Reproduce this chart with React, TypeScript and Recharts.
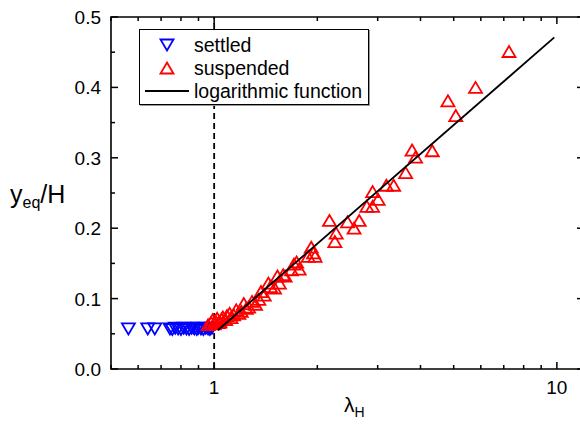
import {
  ReferenceArea,
  ReferenceLine,
  Scatter,
  ScatterChart,
  XAxis,
  YAxis,
} from "recharts";

const FONT = "'Liberation Sans', Arial, sans-serif";
const CHART_WIDTH = 590;
const CHART_HEIGHT = 424;
const PLOT_LEFT = 111;
const PLOT_RIGHT = 584;
const PLOT_TOP = 17;
const PLOT_BOTTOM = 369;
const MAJOR_TICK = 7;
const MINOR_TICK = 4;
const TICK_FONT_SIZE = 19;

const X_DOMAIN: [number, number] = [0.5, 12];
const Y_DOMAIN: [number, number] = [0, 0.5];
const X_MAJOR_TICKS = [1, 10];
const X_MINOR_TICKS = [0.5, 0.6, 0.7, 0.8, 0.9, 2, 3, 4, 5, 6, 7, 8, 9];
const Y_MAJOR_TICKS = [0, 0.1, 0.2, 0.3, 0.4, 0.5];
const Y_MINOR_TICKS = [0.05, 0.15, 0.25, 0.35, 0.45];

const SETTLED_LAMBDA = [
  0.562, 0.64, 0.671, 0.743, 0.755, 0.77, 0.785, 0.8, 0.815, 0.83, 0.845,
  0.86, 0.875, 0.89, 0.9, 0.915, 0.93, 0.945, 0.96, 0.972, 0.985,
];
const SETTLED_Y = [
  0.057, 0.057, 0.057, 0.057, 0.056, 0.058, 0.057, 0.056, 0.058, 0.057, 0.056,
  0.058, 0.057, 0.056, 0.058, 0.057, 0.056, 0.058, 0.057, 0.056, 0.058,
];

const SUSPENDED_LAMBDA = [
  0.96, 0.98, 0.99, 1.0, 1.01, 1.02, 1.03, 1.04, 1.05, 1.06, 1.08, 1.09, 1.11,
  1.12, 1.14, 1.16, 1.18, 1.2, 1.22, 1.24, 1.26, 1.29, 1.32, 1.35, 1.37, 1.4,
  1.44, 1.46, 1.5, 1.53, 1.55, 1.59, 1.61, 1.68, 1.71, 1.74, 1.77, 1.88, 1.92,
  1.95, 1.97, 2.17, 2.25, 2.27, 2.45, 2.56, 2.65, 2.79, 2.9, 2.9, 3.01, 3.18,
  3.34, 3.62, 3.78, 3.87, 4.33, 4.81, 5.07, 5.79, 7.25,
];
const SUSPENDED_Y = [
  0.063, 0.066, 0.07, 0.064, 0.068, 0.072, 0.066, 0.067, 0.071, 0.074, 0.07,
  0.076, 0.079, 0.073, 0.077, 0.084, 0.079, 0.082, 0.093, 0.086, 0.088, 0.096,
  0.092, 0.099, 0.11, 0.105, 0.122, 0.117, 0.115, 0.132, 0.122, 0.134, 0.132,
  0.141, 0.149, 0.152, 0.142, 0.16, 0.173, 0.165, 0.16, 0.211, 0.181, 0.193,
  0.209, 0.2, 0.211, 0.231, 0.231, 0.252, 0.241, 0.261, 0.261, 0.279, 0.311,
  0.301, 0.31, 0.381, 0.36, 0.4, 0.451,
];

const FIT_LAMBDA = [1.025, 9.83];
const FIT_Y = [0.055, 0.471];

const LEGEND_LABELS = ["settled", "suspended", "logarithmic function"];

const toPoints = (xs: number[], ys: number[]) =>
  xs.map((x, i) => ({ x, y: ys[i] }));

const settled = toPoints(SETTLED_LAMBDA, SETTLED_Y);
const suspended = toPoints(SUSPENDED_LAMBDA, SUSPENDED_Y);
const fit = toPoints(FIT_LAMBDA, FIT_Y);

const TRI_W = 6.5;
const TRI_H = 5.5;

function UpTriangle({ cx, cy }: any) {
  return (
    <polygon
      points={`${cx},${cy - TRI_H} ${cx + TRI_W},${cy + TRI_H} ${cx - TRI_W},${cy + TRI_H}`}
      fill="none"
      stroke="#ff0000"
      strokeWidth={1.8}
    />
  );
}

function DownTriangle({ cx, cy }: any) {
  return (
    <polygon
      points={`${cx - TRI_W},${cy - TRI_H} ${cx + TRI_W},${cy - TRI_H} ${cx},${cy + TRI_H}`}
      fill="none"
      stroke="#0000ff"
      strokeWidth={1.8}
    />
  );
}

function XTick({ x, payload }: any) {
  const major = X_MAJOR_TICKS.includes(payload.value);
  const len = major ? MAJOR_TICK : MINOR_TICK;
  return (
    <g>
      <line x1={x} x2={x} y1={PLOT_BOTTOM} y2={PLOT_BOTTOM - len} stroke="#000" strokeWidth={1.5} />
      <line x1={x} x2={x} y1={PLOT_TOP} y2={PLOT_TOP + len} stroke="#000" strokeWidth={1.5} />
      {major && (
        <text x={x} y={394} textAnchor="middle" fontSize={TICK_FONT_SIZE} fontFamily={FONT} fill="#000">
          {payload.value}
        </text>
      )}
    </g>
  );
}

function YTick({ y, payload }: any) {
  const major = Y_MAJOR_TICKS.some((t) => Math.abs(t - payload.value) < 1e-9);
  const len = major ? MAJOR_TICK : MINOR_TICK;
  return (
    <g>
      <line x1={PLOT_LEFT} x2={PLOT_LEFT + len} y1={y} y2={y} stroke="#000" strokeWidth={1.5} />
      <line x1={PLOT_RIGHT} x2={PLOT_RIGHT - len} y1={y} y2={y} stroke="#000" strokeWidth={1.5} />
      {major && (
        <text x={101} y={y + 7} textAnchor="end" fontSize={TICK_FONT_SIZE} fontFamily={FONT} fill="#000">
          {payload.value.toFixed(1)}
        </text>
      )}
    </g>
  );
}

// legend drawn over the plot, like the boxed legend of the original
function LegendBox() {
  return (
    <svg
      width={228}
      height={74}
      style={{
        position: "absolute",
        left: 139,
        top: 29,
        border: "1px solid #000",
        boxShadow: "1px 1px 0 #999",
        background: "#fff",
      }}
    >
      {LEGEND_LABELS.map((label, i) => {
        const cy = 15 + i * 23;
        return (
          <g key={label}>
            {i === 0 && <DownTriangle cx={27} cy={cy} />}
            {i === 1 && <UpTriangle cx={27} cy={cy} />}
            {i === 2 && <line x1={5} x2={49} y1={cy} y2={cy} stroke="#000" strokeWidth={1.8} />}
            <text x={54} y={cy + 7} fontSize={19.5} fontFamily={FONT} fill="#000">
              {label}
            </text>
          </g>
        );
      })}
    </svg>
  );
}

export default function App() {
  return (
    <div style={{ position: "absolute", left: 0, top: 0, width: 580, height: 424, overflow: "hidden", background: "#fff" }}>
      <ScatterChart
        width={CHART_WIDTH}
        height={CHART_HEIGHT}
        margin={{ top: PLOT_TOP, right: CHART_WIDTH - PLOT_RIGHT, bottom: 0, left: 0 }}
      >
        <XAxis
          dataKey="x"
          type="number"
          scale="log"
          domain={X_DOMAIN}
          allowDataOverflow
          ticks={[...X_MINOR_TICKS, ...X_MAJOR_TICKS]}
          tick={<XTick />}
          tickLine={false}
          axisLine={false}
          height={CHART_HEIGHT - PLOT_BOTTOM}
          interval={0}
          label={{
            content: () => (
              <text x={344} y={412} fontSize={21} fontFamily={FONT} fill="#000">
                λ<tspan fontSize={14} dy={5}>H</tspan>
              </text>
            ),
          }}
        />
        <YAxis
          dataKey="y"
          type="number"
          domain={Y_DOMAIN}
          ticks={[...Y_MAJOR_TICKS, ...Y_MINOR_TICKS]}
          tick={<YTick />}
          tickLine={false}
          axisLine={false}
          width={PLOT_LEFT}
          interval={0}
          label={{
            content: () => (
              <text x={10} y={203} fontSize={25} fontFamily={FONT} fill="#000">
                y<tspan fontSize={16} dy={5}>eq</tspan>
                <tspan dy={-5}>/H</tspan>
              </text>
            ),
          }}
        />
        <ReferenceArea
          x1={X_DOMAIN[0]}
          x2={X_DOMAIN[1]}
          y1={Y_DOMAIN[0]}
          y2={Y_DOMAIN[1]}
          fill="none"
          stroke="#000"
          strokeWidth={1.6}
          fillOpacity={0}
        />
        <ReferenceLine x={1} stroke="#000" strokeWidth={1.8} strokeDasharray="6 4" />
        <Scatter name="settled" data={settled} shape={<DownTriangle />} isAnimationActive={false} />
        <Scatter name="suspended" data={suspended} shape={<UpTriangle />} isAnimationActive={false} />
        <Scatter
          name="logarithmic function"
          data={fit}
          line={{ stroke: "#000", strokeWidth: 1.8 }}
          shape={() => null}
          isAnimationActive={false}
        />
      </ScatterChart>
      <LegendBox />
    </div>
  );
}
